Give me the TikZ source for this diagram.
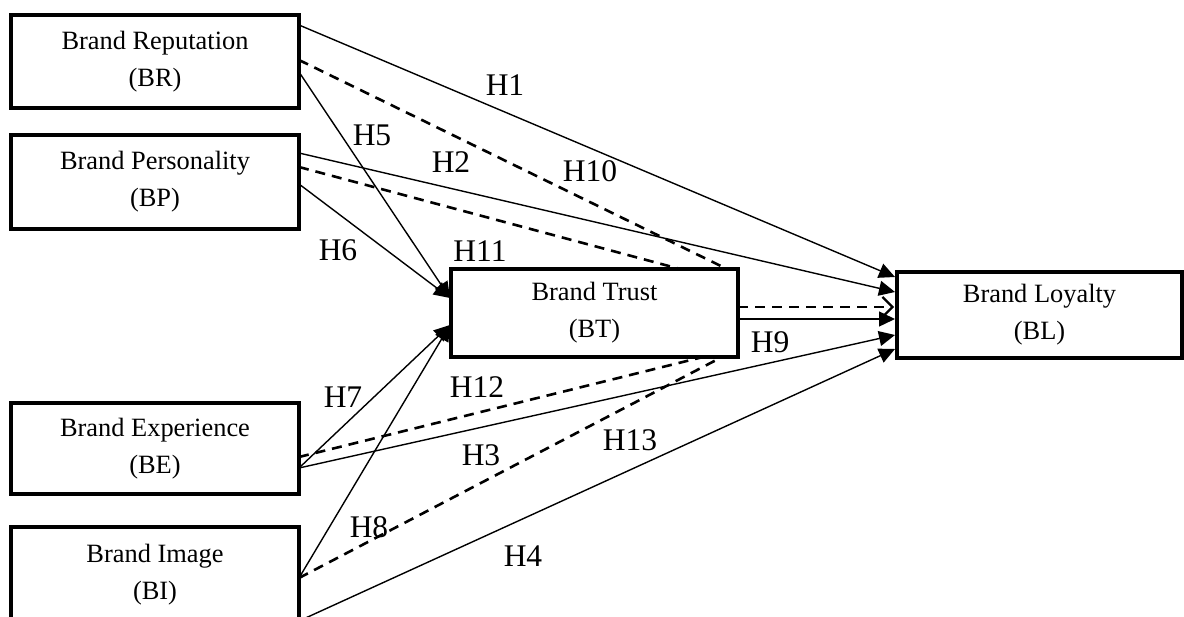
\documentclass[tikz,border=0pt]{standalone}
\usepackage{fontspec}
\setmainfont{Liberation Serif}
\usetikzlibrary{arrows.meta,calc}
\begin{document}
\begin{tikzpicture}[x=1pt,y=-1pt,
  box/.style={draw, line width=3.2pt, align=center, inner sep=0pt, outer sep=0pt,
    font=\fontsize{26.4}{37}\selectfont},
  hyp/.style={font=\fontsize{31.5}{36}\selectfont, inner sep=0pt},
  link/.style={line width=1.4pt, -{Triangle[length=16pt,width=15pt]}},
  med/.style={line width=2.6pt, dash pattern=on 10pt off 7pt},
  medarrow/.style={med, -{Straight Barb[length=10pt,width=20pt,line width=2.2pt]}}
  ]
\useasboundingbox (0,0) rectangle (1184,617);

% constructs
\node[box, minimum width=288pt, minimum height=93pt] (BR) at (155,61.5) {Brand Reputation\\(BR)};
\node[box, minimum width=288pt, minimum height=94pt] (BP) at (155,182) {Brand Personality\\(BP)};
\node[box, minimum width=288pt, minimum height=91pt] (BE) at (155,448.5) {Brand Experience\\(BE)};
\node[box, minimum width=288pt, minimum height=95pt] (BI) at (155,574.5) {Brand Image\\(BI)};
\node[box, minimum width=287pt, minimum height=88pt] (BT) at (594.5,313) {Brand Trust\\(BT)};
\node[box, minimum width=285pt, minimum height=86pt] (BL) at (1039.5,315) {Brand Loyalty\\(BL)};

% attachment points on the box edges
\coordinate (brA) at ($(BR.north east)+(0,10)$);
\coordinate (brB) at ($(BR.north east)+(0,45)$);
\coordinate (brC) at ($(BR.north east)+(0,57)$);
\coordinate (bpA) at ($(BP.north east)+(0,18)$);
\coordinate (bpB) at ($(BP.north east)+(0,32)$);
\coordinate (bpC) at ($(BP.north east)+(0,49)$);
\coordinate (beA) at ($(BE.north east)+(0,54)$);
\coordinate (beB) at ($(BE.north east)+(0,65)$);
\coordinate (biA) at ($(BI.north east)+(0,51)$);
\coordinate (biB) at ($(BI.north east)+(0,94)$);
\coordinate (btInA) at ($(BT.north west)+(-1,29)$);
\coordinate (btInB) at ($(BT.north west)+(-1,56)$);
\coordinate (btTopA) at ($(BT.north west)+(229,0)$);
\coordinate (btTopB) at ($(BT.north west)+(276,0)$);
\coordinate (btBotA) at ($(BT.south west)+(252,0)$);
\coordinate (btBotB) at ($(BT.south west)+(271,0)$);
\coordinate (btOutA) at ($(BT.north east)+(0,38)$);
\coordinate (btOutB) at ($(BT.north east)+(0,50)$);
\coordinate (blA) at ($(BL.north west)+(-2,5)$);
\coordinate (blB) at ($(BL.north west)+(-2,20)$);
\coordinate (blC) at ($(BL.north west)+(-3,35)$);
\coordinate (blD) at ($(BL.north west)+(-2,47)$);
\coordinate (blE) at ($(BL.north west)+(-2,63)$);
\coordinate (blF) at ($(BL.north west)+(-2,77)$);

% direct effects on loyalty
\draw[link] (brA) -- (blA);
\draw[link] (bpA) -- (blB);
\draw[link] (btOutB) -- (blD);
\draw[link] (beB) -- (blE);
\draw[link] (biB) -- (blF);

% effects on trust
\draw[link] (brC) -- (btInA);
\draw[link] (bpC) -- (btInA);
\draw[link] (beB) -- (btInB);
\draw[link] (biA) -- (btInB);

% mediated paths through trust
\draw[med] (brB) -- (btTopB);
\draw[med] (bpB) -- (btTopA);
\draw[med] (beA) -- (btBotA);
\draw[med] (biA) -- (btBotB);
\draw[medarrow] (btOutA) -- (blC);

% hypothesis labels
\node[hyp] (h1) at (505,85) {H1};
\node[hyp] (h2) at (451,162) {H2};
\node[hyp] (h3) at (481,455) {H3};
\node[hyp] (h4) at (523,556) {H4};
\node[hyp] (h5) at (372,135) {H5};
\node[hyp] (h6) at (338,250) {H6};
\node[hyp] (h7) at (343,397) {H7};
\node[hyp] (h8) at (369,527) {H8};
\node[hyp] (h9) at (770,342) {H9};
\node[hyp] (h10) at (590,171) {H10};
\node[hyp] (h11) at (480,251) {H11};
\node[hyp] (h12) at (477,387) {H12};
\node[hyp] (h13) at (630,440) {H13};
\end{tikzpicture}
\end{document}
